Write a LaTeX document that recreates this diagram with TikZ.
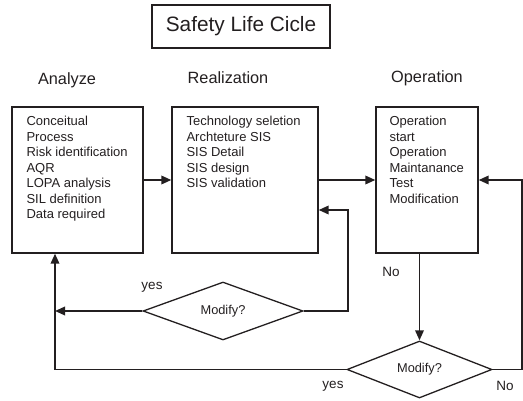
\documentclass[tikz,border=0pt]{standalone}
\usepackage{fontspec}
\setmainfont{Liberation Sans}
\usetikzlibrary{shapes.geometric,arrows.meta,positioning}

\definecolor{ink}{HTML}{231F20}

\tikzset{
  stagebox/.style={draw=ink, line width=1.3pt, rectangle, inner sep=0pt},
  stagetext/.style={anchor=north west, align=left, inner sep=0pt, text=ink,
    font=\fontsize{13}{15.5}\selectfont},
  heading/.style={text=ink, inner sep=0pt, font=\fontsize{16.3}{18}\selectfont},
  decision/.style={draw=ink, line width=1.3pt, diamond, inner sep=0pt, text=ink,
    font=\fontsize{12.8}{14}\selectfont},
  answer/.style={text=ink, inner sep=0pt, font=\fontsize{13.5}{15}\selectfont},
  flow/.style={draw=ink, line width=1.8pt, -{Triangle[length=10pt,width=8.5pt]}},
  flowline/.style={draw=ink, line width=1.8pt}
}

\begin{document}
\begin{tikzpicture}[x=1pt,y=-1pt]
\useasboundingbox (0,0) rectangle (523,401);

% title
\node[stagebox, line width=1.1pt, minimum width=178pt, minimum height=43pt, text=ink,
  font=\fontsize{20.8}{24}\selectfont] (title) at (241,26.5) {Safety Life Cicle};

% the three stages
\node[stagebox, minimum width=131pt, minimum height=146pt] (ana) at (77.5,180) {};
\node[stagebox, minimum width=146pt, minimum height=146pt] (rea) at (245,180) {};
\node[stagebox, minimum width=102pt, minimum height=146pt] (ope) at (427,180) {};

\node[heading] (anahead) at (67,80) {Analyze};
\node[heading] (reahead) at (228,78) {Realization};
\node[heading] (opehead) at (427,78) {Operation};

\node[stagetext] (anatext) at ([xshift=15pt,yshift=-10pt]ana.north west)
  {Conceitual\\Process\\Risk identification\\AQR\\LOPA analysis\\SIL definition\\Data required};
\node[stagetext] (reatext) at ([xshift=15pt,yshift=-10pt]rea.north west)
  {Technology seletion\\Archteture SIS\\SIS Detail\\SIS design\\SIS validation};
\node[stagetext] (opetext) at ([xshift=14pt,yshift=-10pt]ope.north west)
  {Operation\\start\\Operation\\Maintanance\\Test\\Modification};

% decisions
\node[decision, minimum width=160pt, minimum height=58pt] (dia1) at (223,311) {Modify?};
\node[decision, minimum width=145pt, minimum height=57pt] (dia2) at (419.5,369.5) {Modify?};

\coordinate (ret) at ([xshift=-22.5pt]ana.south);

% connectors
\draw[flow] (ana.east) -- (rea.west);
\draw[flow] (rea.east) -- (ope.west);
\draw[flow] (ope.south -| dia2.north) -- (dia2.north);
\draw[flow] (dia2.east) -- ++(29,0) |- (ope.east);
\draw[flow] (dia1.east) -- ++(44,0) |- ([yshift=-30pt]rea.east);
\draw[flow] (dia1.west) -- (dia1.west -| ret);
\draw[flow] (dia2.west) -| (ret);

% answers
\node[answer] (yes1) at (152,287) {yes};
\node[answer] (no1) at (391,272) {No};
\node[answer] (yes2) at (333,386) {yes};
\node[answer] (no2) at (505,386) {No};

\end{tikzpicture}
\end{document}
